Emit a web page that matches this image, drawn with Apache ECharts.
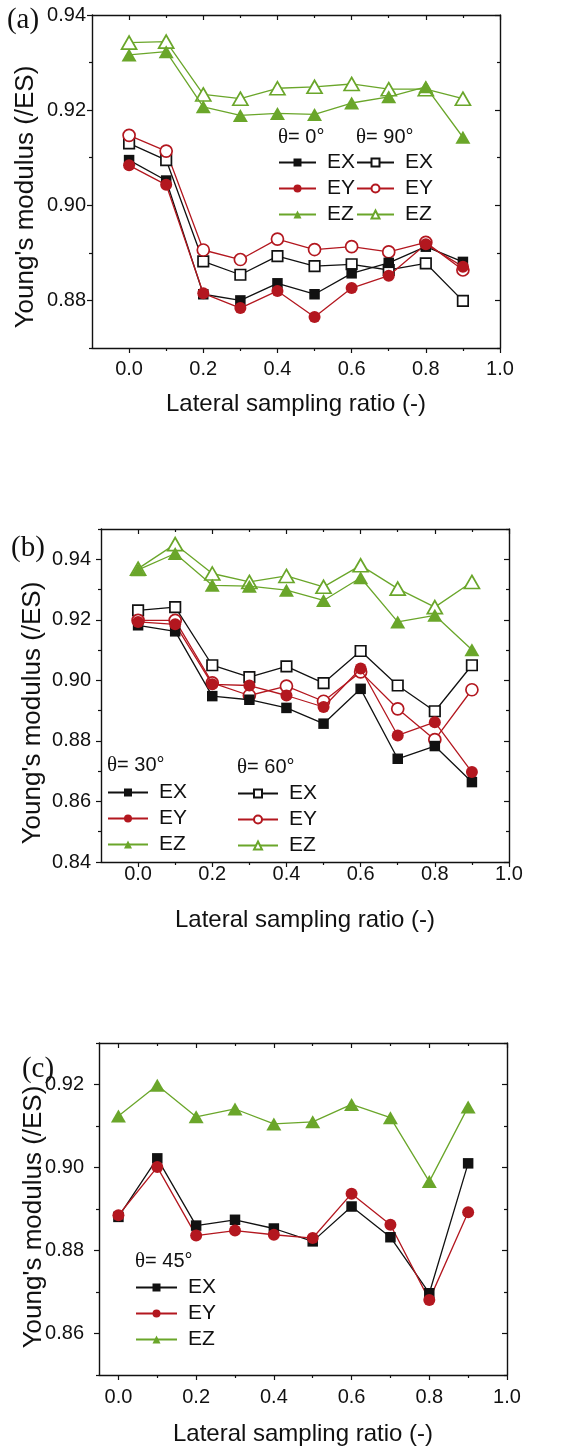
<!DOCTYPE html>
<html><head><meta charset="utf-8">
<script src="https://cdn.jsdelivr.net/npm/echarts@6/dist/echarts.min.js"></script>
<style>html,body{margin:0;padding:0;background:#fff}#c{width:580px;height:1451px}</style>
</head><body><div id="c"></div>
<script>
// ---- data ----
const xValues = [0.0, 0.1, 0.2, 0.3, 0.4, 0.5, 0.6, 0.7, 0.8, 0.9];

// panel (a): theta = 0 (filled) and 90 (open)
const a_EX_0  = [0.9095, 0.9052, 0.8813, 0.8800, 0.8836, 0.8813, 0.8857, 0.8879, 0.8913, 0.8881];
const a_EY_0  = [0.9084, 0.9043, 0.8815, 0.8784, 0.8820, 0.8765, 0.8826, 0.8852, 0.8918, 0.8871];
const a_EZ_0  = [0.9316, 0.9323, 0.9207, 0.9189, 0.9193, 0.9191, 0.9215, 0.9228, 0.9249, 0.9143];
const a_EX_90 = [0.9130, 0.9095, 0.8882, 0.8854, 0.8893, 0.8872, 0.8876, 0.8864, 0.8878, 0.8799];
const a_EY_90 = [0.9147, 0.9114, 0.8906, 0.8886, 0.8929, 0.8907, 0.8913, 0.8902, 0.8922, 0.8864];
const a_EZ_90 = [0.9342, 0.9344, 0.9233, 0.9224, 0.9246, 0.9249, 0.9255, 0.9244, 0.9244, 0.9224];

// panel (b): theta = 30 (filled) and 60 (open)
const b_EX_30 = [0.9182, 0.9162, 0.8948, 0.8936, 0.8909, 0.8857, 0.8972, 0.8741, 0.8783, 0.8664];
const b_EY_30 = [0.9193, 0.9185, 0.8987, 0.8983, 0.8950, 0.8912, 0.9039, 0.8818, 0.8862, 0.8697];
const b_EZ_30 = [0.9365, 0.9419, 0.9314, 0.9311, 0.9298, 0.9264, 0.9339, 0.9193, 0.9215, 0.9101];
const b_EX_60 = [0.9231, 0.9242, 0.9050, 0.9011, 0.9046, 0.8991, 0.9097, 0.8983, 0.8898, 0.9050];
const b_EY_60 = [0.9198, 0.9198, 0.8992, 0.8950, 0.8981, 0.8931, 0.9028, 0.8906, 0.8804, 0.8969];
const b_EZ_60 = [0.9369, 0.9450, 0.9353, 0.9325, 0.9345, 0.9309, 0.9380, 0.9303, 0.9242, 0.9325];

// panel (c): theta = 45
const c_EX = [0.8881, 0.9022, 0.8860, 0.8874, 0.8853, 0.8822, 0.8906, 0.8832, 0.8697, 0.9010];
const c_EY = [0.8885, 0.9001, 0.8836, 0.8848, 0.8838, 0.8830, 0.8937, 0.8862, 0.8681, 0.8892];
const c_EZ = [0.9124, 0.9198, 0.9122, 0.9141, 0.9105, 0.9110, 0.9152, 0.9120, 0.8966, 0.9146];

// tick labels
const xMajorTicks = [0.0, 0.2, 0.4, 0.6, 0.8, 1.0];
const xMinorTicks = [0.1, 0.3, 0.5, 0.7, 0.9];
const aYMajor = [0.88, 0.90, 0.92, 0.94];
const aYMinor = [0.87, 0.89, 0.91, 0.93];
const bYMajor = [0.84, 0.86, 0.88, 0.90, 0.92, 0.94];
const bYMinor = [0.85, 0.87, 0.89, 0.91, 0.93, 0.95];
const cYMajor = [0.86, 0.88, 0.90, 0.92];
const cYMinor = [0.85, 0.87, 0.89, 0.91, 0.93];

const yTitle = "Young's modulus (/ES)";
const xTitle = 'Lateral sampling ratio (-)';

// ---- styling / layout ----
const FONT = '"Liberation Sans", Arial, sans-serif';
const SERIF = '"Liberation Serif", "Times New Roman", serif';
const BLACK = '#111111', RED = '#b3171f', GREEN = '#6aa62a';

const panels = [
  { grid: {left: 92, top: 15, width: 408, height: 333}, xMin: -0.1, xMax: 1.0, yMin: 0.87, yMax: 0.94,
    yMajor: aYMajor, yMinor: aYMinor, yLabelMargin: 6, xLabelMargin: 11 },
  { grid: {left: 101, top: 529, width: 408, height: 333}, xMin: -0.1, xMax: 1.0, yMin: 0.84, yMax: 0.95,
    yMajor: bYMajor, yMinor: bYMinor, yLabelMargin: 10, xLabelMargin: 2 },
  { grid: {left: 99, top: 1043, width: 408, height: 332}, xMin: -0.05, xMax: 1.0, yMin: 0.85, yMax: 0.93,
    yMajor: cYMajor, yMinor: cYMinor, yLabelMargin: 15, xLabelMargin: 12 }
];

const grids = [], xAxes = [], yAxes = [], mainX = [], mainY = [];
panels.forEach((p, gi) => {
  grids.push(Object.assign({show: false}, p.grid));
  const mkX = (pos, ticks, inside, len, labels, line) => ({
    type: 'value', gridIndex: gi, position: pos, min: p.xMin, max: p.xMax,
    axisLine: {show: line, onZero: false, lineStyle: {color: BLACK, width: 1.4}},
    axisTick: {show: true, inside: inside, length: len, customValues: ticks, lineStyle: {color: BLACK, width: 1.2}},
    axisLabel: labels ? {show: true, customValues: ticks, formatter: v => v.toFixed(1), fontSize: 20,
      color: BLACK, fontFamily: FONT, margin: p.xLabelMargin} : {show: false},
    splitLine: {show: false}
  });
  const mkY = (pos, ticks, inside, len, labels, line) => ({
    type: 'value', gridIndex: gi, position: pos, min: p.yMin, max: p.yMax,
    axisLine: {show: line, onZero: false, lineStyle: {color: BLACK, width: 1.4}},
    axisTick: {show: true, inside: inside, length: len, customValues: ticks, lineStyle: {color: BLACK, width: 1.2}},
    axisLabel: labels ? {show: true, customValues: ticks, formatter: v => v.toFixed(2), fontSize: 20,
      color: BLACK, fontFamily: FONT, margin: p.yLabelMargin} : {show: false},
    splitLine: {show: false}
  });
  mainX.push(xAxes.length);
  xAxes.push(mkX('bottom', xMajorTicks, false, 5, true, true));
  xAxes.push(mkX('bottom', xMinorTicks, false, 3, false, false));
  xAxes.push(mkX('top', xMajorTicks, true, 5, false, true));
  xAxes.push(mkX('top', xMinorTicks, true, 3, false, false));
  mainY.push(yAxes.length);
  yAxes.push(mkY('left', p.yMajor, false, 5, true, true));
  yAxes.push(mkY('left', p.yMinor, false, 3, false, false));
  yAxes.push(mkY('right', p.yMajor, true, 5, false, true));
  yAxes.push(mkY('right', p.yMinor, true, 3, false, false));
});

const SHAPES = {EX: ['rect', 10.5], EY: ['circle', 12], EZ: ['triangle', [15, 13]]};
function mk(name, gi, ys, color, key, open) {
  return {
    type: 'line', name: name, xAxisIndex: mainX[gi], yAxisIndex: mainY[gi],
    data: xValues.map((x, i) => [x, ys[i]]),
    symbol: SHAPES[key][0], symbolSize: SHAPES[key][1], showSymbol: true,
    lineStyle: {color: color, width: 1.3},
    itemStyle: open ? {color: '#ffffff', borderColor: color, borderWidth: 1.7}
                    : {color: color, borderColor: color, borderWidth: 0},
    emphasis: {disabled: true}, z: open ? 3 : 4
  };
}

const series = [
  mk('EX a0', 0, a_EX_0, BLACK, 'EX', false),
  mk('EY a0', 0, a_EY_0, RED, 'EY', false),
  mk('EZ a0', 0, a_EZ_0, GREEN, 'EZ', false),
  mk('EX a90', 0, a_EX_90, BLACK, 'EX', true),
  mk('EY a90', 0, a_EY_90, RED, 'EY', true),
  mk('EZ a90', 0, a_EZ_90, GREEN, 'EZ', true),
  mk('EX b30', 1, b_EX_30, BLACK, 'EX', false),
  mk('EY b30', 1, b_EY_30, RED, 'EY', false),
  mk('EZ b30', 1, b_EZ_30, GREEN, 'EZ', false),
  mk('EX b60', 1, b_EX_60, BLACK, 'EX', true),
  mk('EY b60', 1, b_EY_60, RED, 'EY', true),
  mk('EZ b60', 1, b_EZ_60, GREEN, 'EZ', true),
  mk('EX c45', 2, c_EX, BLACK, 'EX', false),
  mk('EY c45', 2, c_EY, RED, 'EY', false),
  mk('EZ c45', 2, c_EZ, GREEN, 'EZ', false)
];

function legend(names, left, top, w) {
  return {
    data: names, left: left, top: top, orient: 'vertical', padding: 0,
    itemWidth: w, itemHeight: 10, itemGap: 5, selectedMode: false,
    formatter: n => n.split(' ')[0],
    textStyle: {fontSize: 21, fontFamily: FONT, color: BLACK, padding: [0, 0, 0, 6], lineHeight: 20}
  };
}
const legends = [
  legend(['EX a0', 'EY a0', 'EZ a0'], 278, 152, 37),
  legend(['EX a90', 'EY a90', 'EZ a90'], 356, 152, 37),
  legend(['EX b30', 'EY b30', 'EZ b30'], 107, 782, 40),
  legend(['EX b60', 'EY b60', 'EZ b60'], 237, 783, 40),
  legend(['EX c45', 'EY c45', 'EZ c45'], 135, 1277, 41)
];

function txt(text, x, y, size, opts) {
  return Object.assign({
    type: 'text', x: x, y: y, silent: true,
    style: {text: text, fill: BLACK, font: size + 'px ' + FONT, align: 'center', verticalAlign: 'middle'}
  }, opts || {});
}
function serifLabel(text, x, y) {
  return {type: 'text', x: x, y: y, silent: true,
    style: {text: text, fill: BLACK, font: '29px ' + SERIF, align: 'center', verticalAlign: 'middle'}};
}
function theta(label, x, y) {
  return {
    type: 'text', x: x, y: y, silent: true,
    style: {text: '{t|θ}= ' + label, fill: BLACK, font: '20px ' + FONT, align: 'left', verticalAlign: 'middle',
      rich: {t: {fontFamily: SERIF, fontSize: 21, fill: BLACK}}}
  };
}
const graphics = [
  serifLabel('(a)', 23, 20),
  serifLabel('(b)', 28, 548),
  serifLabel('(c)', 38, 1069),
  txt(yTitle, 26, 197, 26, {rotation: Math.PI / 2}),
  txt(yTitle, 33, 713, 26, {rotation: Math.PI / 2}),
  txt(yTitle, 34, 1217, 26, {rotation: Math.PI / 2}),
  txt(xTitle, 296, 404, 24),
  txt(xTitle, 305, 920, 24),
  txt(xTitle, 303, 1434, 24),
  theta('0°', 278, 137),
  theta('90°', 356, 137),
  theta('30°', 107, 765),
  theta('60°', 237, 767),
  theta('45°', 135, 1261)
];

const chart = echarts.init(document.getElementById('c'), null, {renderer: 'canvas'});
chart.setOption({
  animation: false,
  backgroundColor: '#ffffff',
  grid: grids, xAxis: xAxes, yAxis: yAxes,
  legend: legends, series: series, graphic: graphics
});
</script></body></html>
